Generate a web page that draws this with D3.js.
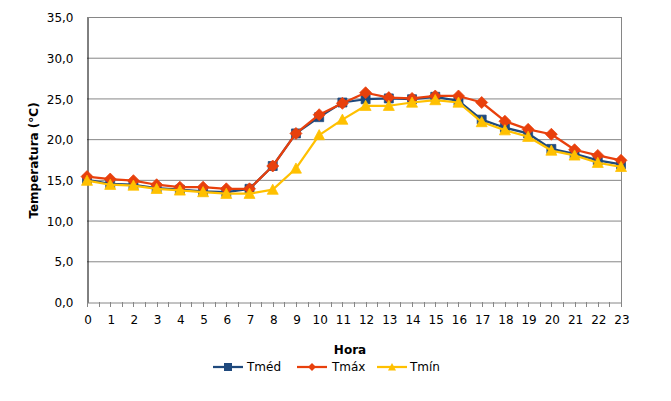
<!DOCTYPE html>
<html>
  <head>
    <style>
      html,
      body { margin: 0; background: #fff; }
      svg { display: block; }
      text { font-family: Verdana, "DejaVu Sans", sans-serif; fill: #000; }
    </style>
    <script src="https://d3js.org/d3.v7.js"></script>
  </head>
  <body>
    <svg class="chart"></svg>

    <script>
      const width = 671;
      const height = 401;

      // hourly values
      const hours = d3.range(0, 24);
      const tMed = [15.0, 14.5, 14.4, 14.0, 13.8, 13.6, 13.5, 13.9, 16.7, 20.7, 22.7, 24.5,
                    24.9, 25.0, 24.9, 25.2, 24.7, 22.4, 21.4, 20.7, 18.8, 18.2, 17.4, 16.9];
      const tMax = [15.4, 15.1, 14.9, 14.4, 14.1, 14.1, 13.9, 13.9, 16.7, 20.7, 23.0, 24.4,
                    25.7, 25.1, 25.0, 25.3, 25.3, 24.5, 22.2, 21.2, 20.6, 18.7, 18.0, 17.4];
      const tMin = [14.9, 14.4, 14.3, 13.9, 13.7, 13.5, 13.3, 13.3, 13.8, 16.4, 20.5, 22.4,
                    24.1, 24.1, 24.5, 24.8, 24.5, 22.1, 21.1, 20.3, 18.6, 18.0, 17.1, 16.6];
      const yTicks = d3.range(0, 36, 5);

      const series = [
        { name: 'Tméd', values: tMed, color: '#1F497D', marker: 'square' },
        { name: 'Tmáx', values: tMax, color: '#E8400C', marker: 'diamond' },
        { name: 'Tmín', values: tMin, color: '#FFC000', marker: 'triangle' },
      ];

      const plot = { left: 87, right: 621, top: 17, bottom: 302 };

      const svg = d3.select('svg')
        .attr('width', width)
        .attr('height', height);

      const x = d3.scaleLinear()
        .domain([0, 23])
        .range([plot.left, plot.right]);

      const y = d3.scaleLinear()
        .domain([0, 35])
        .range([plot.bottom, plot.top]);

      const fmt = (d) => d.toFixed(1).replace('.', ',');

      // horizontal grid
      svg.append('g')
        .selectAll('line')
        .data(yTicks.filter((d) => d > 0))
        .join('line')
        .attr('x1', plot.left)
        .attr('x2', plot.right)
        .attr('y1', (d) => y(d) + 0.5)
        .attr('y2', (d) => y(d) + 0.5)
        .style('stroke', '#868686')
        .style('stroke-width', 1);

      // right border
      svg.append('line')
        .attr('x1', plot.right + 0.5)
        .attr('x2', plot.right + 0.5)
        .attr('y1', plot.top)
        .attr('y2', plot.bottom)
        .style('stroke', '#868686');

      // y axis
      const yAxis = svg.append('g')
        .attr('transform', `translate(${plot.left + 0.5},0.5)`)
        .call(d3.axisLeft(y).tickValues(yTicks).tickFormat(fmt).tickSize(0).tickPadding(14));
      yAxis.select('.domain').style('stroke', '#000');
      yAxis.selectAll('text')
        .style('font-size', '12px')
        .attr('dy', '0.35em');

      // x axis with ticks every half hour
      const xAxis = svg.append('g')
        .attr('transform', `translate(0.5,${plot.bottom + 0.5})`)
        .call(d3.axisBottom(x).tickValues(hours).tickFormat(d3.format('d')).tickSize(0).tickPadding(13));
      xAxis.select('.domain').style('stroke', '#868686');
      xAxis.selectAll('text').style('font-size', '12px');

      svg.append('g')
        .selectAll('line')
        .data(d3.range(0, 23.01, 0.5))
        .join('line')
        .attr('x1', (d) => Math.round(x(d)) + 0.5)
        .attr('x2', (d) => Math.round(x(d)) + 0.5)
        .attr('y1', plot.bottom)
        .attr('y2', plot.bottom + 5)
        .style('stroke', '#868686');

      // axis titles
      svg.append('text')
        .attr('transform', `translate(38,${(plot.top + plot.bottom) / 2 + 1}) rotate(-90)`)
        .attr('text-anchor', 'middle')
        .style('font-size', '12px')
        .style('font-weight', 'bold')
        .text('Temperatura (°C)');

      svg.append('text')
        .attr('x', 350)
        .attr('y', 354)
        .attr('text-anchor', 'middle')
        .style('font-size', '12px')
        .style('font-weight', 'bold')
        .text('Hora');

      // marker shapes
      const markerPath = (type, s) => {
        if (type === 'square') return `M${-s},${-s}H${s}V${s}H${-s}Z`;
        if (type === 'diamond') return `M0,${-s}L${s},0L0,${s}L${-s},0Z`;
        return `M0,${-s}L${s},${s * 0.85}L${-s},${s * 0.85}Z`;
      };
      const markerSize = { square: 4.5, diamond: 6, triangle: 5.5 };

      const line = d3.line()
        .x((d, i) => x(hours[i]))
        .y((d) => y(d));

      series.forEach((s) => {
        const g = svg.append('g');
        g.append('path')
          .datum(s.values)
          .attr('d', line)
          .style('fill', 'none')
          .style('stroke', s.color)
          .style('stroke-width', 2.25)
          .style('stroke-linejoin', 'round');

        g.selectAll('path.mk')
          .data(s.values)
          .join('path')
          .attr('class', 'mk')
          .attr('transform', (d, i) => `translate(${x(hours[i])},${y(d)})`)
          .attr('d', markerPath(s.marker, markerSize[s.marker]))
          .style('fill', s.color)
          .style('stroke', s.color)
          .style('stroke-width', 0.75);
      });

      // legend
      const legendItems = [
        { x0: 213, tx: 247 },
        { x0: 297, tx: 332 },
        { x0: 377, tx: 410 },
      ];
      const legendY = 367;

      const legend = svg.append('g')
        .selectAll('g')
        .data(series)
        .join('g');

      legend.append('line')
        .attr('x1', (d, i) => legendItems[i].x0)
        .attr('x2', (d, i) => legendItems[i].x0 + 30)
        .attr('y1', legendY)
        .attr('y2', legendY)
        .style('stroke', (d) => d.color)
        .style('stroke-width', 2.25);

      legend.append('path')
        .attr('transform', (d, i) => `translate(${legendItems[i].x0 + 15},${legendY})`)
        .attr('d', (d) => markerPath(d.marker, 4))
        .style('fill', (d) => d.color);

      legend.append('text')
        .attr('x', (d, i) => legendItems[i].tx)
        .attr('y', legendY)
        .attr('dy', '0.35em')
        .style('font-size', '12px')
        .text((d) => d.name);
    </script>
  </body>
</html>
